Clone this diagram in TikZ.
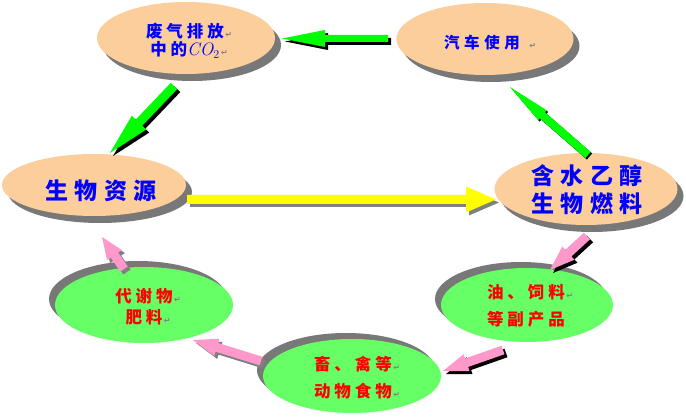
\documentclass[tikz,border=0pt]{standalone}
\usepackage{fontspec}
\usetikzlibrary{shapes.geometric,calc,shadows}
\newfontfamily\cjk{Noto Sans CJK SC}
\newfontfamily\djv{DejaVu Sans}
\definecolor{peach}{RGB}{252,206,156}
\definecolor{lgreen}{RGB}{102,255,102}
\definecolor{abgreen}{RGB}{0,255,0}
\definecolor{pinkarr}{RGB}{255,153,204}
\definecolor{yel}{RGB}{255,255,0}
\definecolor{shgray}{RGB}{128,128,128}
\definecolor{ellsh}{RGB}{120,120,120}
\definecolor{tblue}{RGB}{0,0,255}
\definecolor{tred}{RGB}{255,0,0}
\newcommand\retmark{{\djv\color{gray}\fontsize{8}{8}\selectfont\,↵}}
\newcommand\lsp[2]{{\addfontfeature{LetterSpace=#1}#2}}
% tail, tip, shaft half width, head half width, head length, fill, shadow colour, shadow offset
\newcommand\blockarr[8]{%
  \coordinate (hb) at ($(#2)!#5!(#1)$);
  \fill[#7] ($(#1)!#3!90:(#2)+#8$) -- ($(hb)!#3!90:(#2)+#8$) -- ($(hb)!#4!90:(#2)+#8$) -- ($(#2)+#8$) -- ($(hb)!#4!-90:(#2)+#8$) -- ($(hb)!#3!-90:(#2)+#8$) -- ($(#1)!#3!-90:(#2)+#8$) -- cycle;
  \fill[#6] ($(#1)!#3!90:(#2)$) -- ($(hb)!#3!90:(#2)$) -- ($(hb)!#4!90:(#2)$) -- (#2) -- ($(hb)!#4!-90:(#2)$) -- ($(hb)!#3!-90:(#2)$) -- ($(#1)!#3!-90:(#2)$) -- cycle;
}
\begin{document}
\begin{tikzpicture}[x=1pt,y=-1pt,
  peachell/.style={ellipse, fill=peach, inner sep=0pt,
    drop shadow={shadow xshift=6pt, shadow yshift=-7pt, fill=ellsh, opacity=1}},
  greenell/.style={ellipse, fill=lgreen, inner sep=0pt,
    drop shadow={shadow xshift=-6pt, shadow yshift=6pt, fill=ellsh, opacity=1}},
  bluetxt/.style={inner sep=0pt, align=center, text=tblue},
  redtxt/.style={inner sep=0pt, align=center, text=tred}]
\useasboundingbox (0,0) rectangle (686,419);
\fill[white] (0,0) rectangle (686,419);

\node[peachell, minimum width=178pt, minimum height=72pt] (e1) at (186,38) {};
\node[peachell, minimum width=177pt, minimum height=72pt] (e2) at (485,39) {};
\node[peachell, minimum width=184pt, minimum height=62pt] (e3) at (94,185) {};
\node[peachell, minimum width=183pt, minimum height=72pt] (e4) at (586,189) {};
\node[greenell, minimum width=178pt, minimum height=76pt] (e5) at (144,305) {};
\node[greenell, minimum width=172pt, minimum height=74pt] (e6) at (527,305) {};
\node[greenell, minimum width=178pt, minimum height=74pt] (e7) at (352,376) {};

\node[bluetxt, font=\cjk\bfseries\fontsize{16.5}{18}\selectfont] (t1) at (189,41)
  {\lsp{24}{废气排放}\retmark\\\lsp{24}{中的}{\fontsize{18}{18}\selectfont$\mathit{CO}_{2}$}\retmark};
\node[bluetxt, font=\cjk\bfseries\fontsize{15.5}{18}\selectfont] (t2) at (490,43)
  {\lsp{30}{汽车使用}\hspace{8pt}\retmark};
\node[bluetxt, font=\cjk\bfseries\fontsize{23}{28}\selectfont] (t3) at (101,191)
  {\lsp{27}{生物资源}};
\node[bluetxt, font=\cjk\bfseries\fontsize{23}{28}\selectfont] (t4) at (587,190)
  {\lsp{27}{含水乙醇}\\\lsp{27}{生物燃料}};
\node[redtxt, font=\cjk\bfseries\fontsize{16.5}{21}\selectfont] (t5) at (148,307)
  {\lsp{24}{代谢物}\retmark\\\lsp{24}{肥料}\retmark};
\node[redtxt, font=\cjk\bfseries\fontsize{16.5}{27}\selectfont] (t6) at (530,306)
  {\lsp{24}{油、饲料}\retmark\\\lsp{24}{等副产品}\phantom{\retmark}};
\node[redtxt, font=\cjk\bfseries\fontsize{16.5}{27}\selectfont] (t7) at (357,378)
  {\lsp{24}{畜、禽等}\retmark\\\lsp{24}{动物食物}\retmark};

\coordinate (a1s) at (388,38.5); \coordinate (a1e) at (282,38.5);
\coordinate (a2s) at (174,86);   \coordinate (a2e) at (110,153);
\coordinate (a3s) at (588,155);  \coordinate (a3e) at (510,87);
\coordinate (a4s) at (187,199.5);\coordinate (a4e) at (496,199.5);
\coordinate (a5s) at (587,236);  \coordinate (a5e) at (550,270);
\coordinate (a6s) at (503,350);  \coordinate (a6e) at (443,371);
\coordinate (a7s) at (261,361);  \coordinate (a7e) at (193,340);
\coordinate (a8s) at (124,269);  \coordinate (a8e) at (102,237);

\blockarr{a1s}{a1e}{3.5pt}{8.5pt}{43pt}{abgreen}{black}{(3,3)}
\blockarr{a2s}{a2e}{4.5pt}{10pt}{42pt}{abgreen}{black}{(3,3)}
\blockarr{a3s}{a3e}{4pt}{6.5pt}{43pt}{abgreen}{black}{(1.5,1.5)}
\blockarr{a4s}{a4e}{4.5pt}{13pt}{30pt}{yel}{shgray}{(3,3)}
\blockarr{a5s}{a5e}{4.5pt}{9pt}{25pt}{pinkarr}{black}{(3,3)}
\blockarr{a6s}{a6e}{4.5pt}{9pt}{25pt}{pinkarr}{black}{(3,3)}
\blockarr{a7s}{a7e}{4.5pt}{9pt}{25pt}{pinkarr}{shgray}{(3,3)}
\blockarr{a8s}{a8e}{4.5pt}{9pt}{22pt}{pinkarr}{shgray}{(3,3)}
\end{tikzpicture}
\end{document}
